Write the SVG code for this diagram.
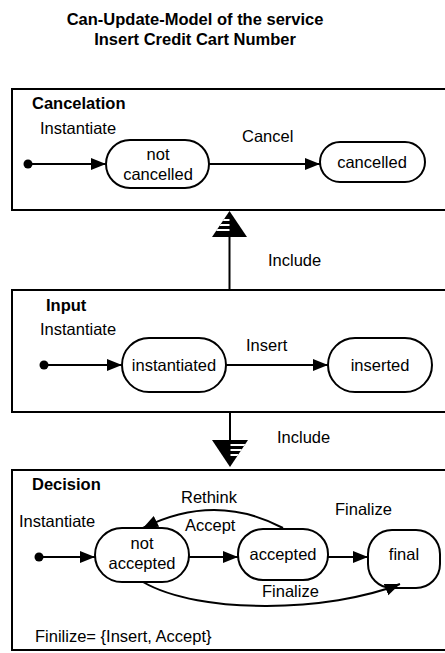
<svg xmlns="http://www.w3.org/2000/svg" width="445" height="653" viewBox="0 0 445 653">
<style>
text{font-family:"Liberation Sans",Arial,sans-serif;font-size:16.5px;fill:#000}
.b{font-weight:bold}
.m{text-anchor:middle}
.box{fill:#fff;stroke:#000;stroke-width:2}
.st{fill:#fff;stroke:#000;stroke-width:2}
.ln{fill:none;stroke:#000;stroke-width:2}
</style>
<defs>
<marker id="ah" markerUnits="userSpaceOnUse" markerWidth="16" markerHeight="14" refX="15" refY="6" orient="auto">
<path d="M0,0 L15,6 L0,12 z" fill="#000"/>
</marker>
<clipPath id="c1"><polygon points="212,237 247,237 229.5,211"/></clipPath>
<clipPath id="c2"><polygon points="212,440 248,440 230,467"/></clipPath>
</defs>
<rect width="445" height="653" fill="#fff"/>
<g id="title">
<text class="b m" x="195" y="25">Can-Update-Model of the service</text>
<text class="b m" x="195" y="45">Insert Credit Cart Number</text>
</g>
<g id="cancelation">
<rect class="box" x="12" y="89" width="450" height="121"/>
<text class="b" x="32" y="109">Cancelation</text>
</g>
<g id="input">
<rect class="box" x="12" y="290" width="450" height="122"/>
<text class="b" x="46" y="311">Input</text>
</g>
<g id="decision">
<rect class="box" x="12" y="470" width="450" height="180"/>
<text class="b" x="32" y="490">Decision</text>
<text x="35" y="642">Finilize= {Insert, Accept}</text>
</g>
<g id="init1"><circle cx="28" cy="164" r="4.5" fill="#000"/></g>
<g id="not-cancelled">
<rect class="st" x="106" y="140" width="103" height="48" rx="24"/>
<text class="m" x="158" y="160">not</text>
<text class="m" x="158" y="180">cancelled</text>
</g>
<g id="cancelled">
<rect class="st" x="320" y="142" width="105" height="40" rx="20"/>
<text class="m" x="372" y="168">cancelled</text>
</g>
<g id="init2"><circle cx="44" cy="365" r="4.5" fill="#000"/></g>
<g id="instantiated">
<rect class="st" x="122" y="338" width="104" height="54" rx="27"/>
<text class="m" x="174" y="371">instantiated</text>
</g>
<g id="inserted">
<rect class="st" x="328" y="338" width="104" height="54" rx="27"/>
<text class="m" x="380" y="371">inserted</text>
</g>
<g id="init3"><circle cx="39" cy="557" r="4.5" fill="#000"/></g>
<g id="not-accepted">
<rect class="st" x="95" y="528" width="94" height="54" rx="27"/>
<text class="m" x="142" y="549">not</text>
<text class="m" x="142" y="569">accepted</text>
</g>
<g id="accepted">
<rect class="st" x="238" y="529" width="90" height="51" rx="25"/>
<text class="m" x="283" y="560">accepted</text>
</g>
<g id="final">
<rect class="st" x="368" y="530" width="72" height="58" rx="24"/>
<text class="m" x="404" y="560">final</text>
</g>
<g id="connectors">
<line class="ln" x1="32" y1="164" x2="106" y2="164" marker-end="url(#ah)"/>
<text x="40" y="134">Instantiate</text>
<line class="ln" x1="209" y1="164" x2="320" y2="164" marker-end="url(#ah)"/>
<text x="242" y="142">Cancel</text>
<line class="ln" x1="48" y1="365" x2="122" y2="365" marker-end="url(#ah)"/>
<text x="40" y="335">Instantiate</text>
<line class="ln" x1="226" y1="365" x2="328" y2="365" marker-end="url(#ah)"/>
<text x="246" y="351">Insert</text>
<line class="ln" x1="43" y1="557" x2="95" y2="557" marker-end="url(#ah)"/>
<text x="19" y="527">Instantiate</text>
<line class="ln" x1="189" y1="557" x2="238" y2="557" marker-end="url(#ah)"/>
<text x="185" y="531">Accept</text>
<line class="ln" x1="328" y1="557" x2="368" y2="557" marker-end="url(#ah)"/>
<text x="335" y="515">Finalize</text>
<path class="ln" d="M283,528 Q215,492 143,528" marker-end="url(#ah)"/>
<text x="181" y="503">Rethink</text>
<path class="ln" d="M143,582 C200,615 330,612 400,584" marker-end="url(#ah)"/>
<text x="262" y="597">Finalize</text>
<line class="ln" x1="229.5" y1="290" x2="229.5" y2="236"/>
<polygon points="212,237 247,237 229.5,211" fill="#000"/>
<g clip-path="url(#c1)" fill="#fff">
<rect x="205" y="219" width="24.5" height="2"/>
<rect x="205" y="224" width="24.5" height="2"/>
<rect x="205" y="229" width="24.5" height="2"/>
</g>
<text x="268" y="266">Include</text>
<line class="ln" x1="230" y1="412" x2="230" y2="441"/>
<polygon points="212,440 248,440 230,467" fill="#000"/>
<g clip-path="url(#c2)" fill="#fff">
<rect x="230.5" y="444" width="25" height="2"/>
<rect x="230.5" y="449" width="25" height="2"/>
<rect x="230.5" y="454" width="25" height="2"/>
</g>
<text x="277" y="443">Include</text>
</g>
</svg>
